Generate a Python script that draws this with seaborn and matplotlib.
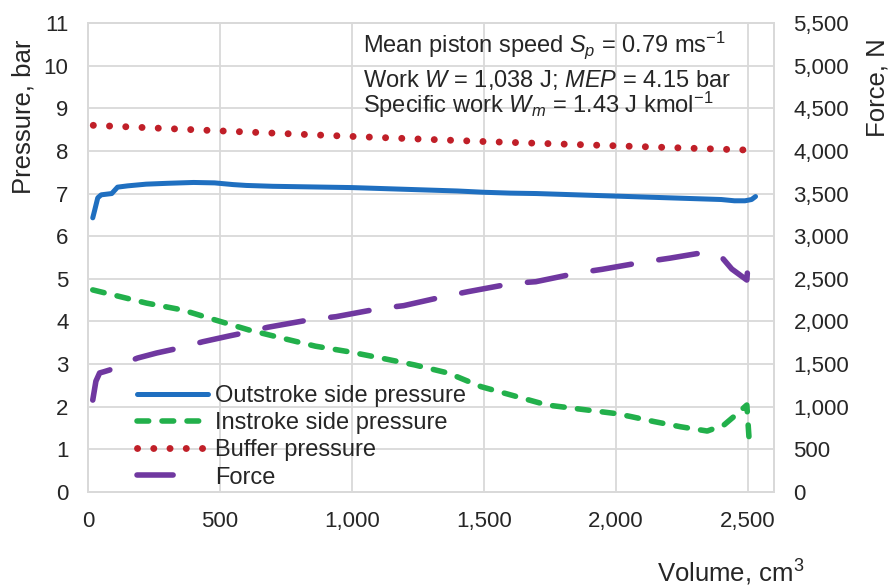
import matplotlib
matplotlib.use("Agg")
import matplotlib.pyplot as plt
import seaborn as sns
import pandas as pd
from matplotlib.ticker import FuncFormatter, MultipleLocator

# ---------------- data ----------------
out_vol = [18, 25, 37, 50, 90, 112, 150, 220, 300, 400, 480, 550, 600, 700, 800, 900, 1000,
           1100, 1200, 1300, 1400, 1500, 1600, 1700, 1800, 1900, 2000, 2100, 2200, 2300,
           2400, 2450, 2490, 2515, 2530]
out_p = [6.43, 6.6, 6.9, 6.97, 7.0, 7.15, 7.18, 7.22, 7.24, 7.26, 7.25, 7.21, 7.19, 7.17,
         7.16, 7.15, 7.14, 7.12, 7.1, 7.08, 7.06, 7.03, 7.01, 7.0, 6.98, 6.96, 6.94, 6.92,
         6.9, 6.88, 6.86, 6.83, 6.83, 6.86, 6.93]

in_vol = [18, 222, 358, 485, 610, 735, 862, 988, 1112, 1238, 1365, 1490, 1740, 2000, 2057,
          2147, 2246, 2347, 2410, 2448, 2497, 2505]
in_p = [4.74, 4.43, 4.27, 4.03, 3.8, 3.61, 3.42, 3.29, 3.14, 2.98, 2.79, 2.47, 2.04, 1.84,
        1.77, 1.65, 1.53, 1.43, 1.57, 1.77, 2.04, 1.3]

buf_vol = [20, 500, 1000, 1500, 2000, 2500]
buf_p = [8.6, 8.47, 8.34, 8.22, 8.12, 8.02]

force_vol = [18, 30, 44, 60, 82, 100, 188, 260, 347, 435, 535, 605, 680, 850, 940, 1110,
             1196, 1358, 1440, 1610, 1697, 1862, 1948, 2112, 2205, 2307, 2373, 2400, 2440,
             2497, 2505]
force_n = [1078, 1300, 1396, 1410, 1431, 1466, 1571, 1630, 1689, 1762, 1830, 1875, 1931,
           2025, 2056, 2154, 2185, 2298, 2349, 2447, 2466, 2572, 2611, 2700, 2742, 2795,
           2800, 2760, 2615, 2486, 2818]

labels = ["Outstroke side pressure", "Instroke side pressure", "Buffer pressure", "Force"]

# ---------------- style ----------------
sns.set_theme(style="white")
plt.rcParams["font.family"] = ["Liberation Sans", "DejaVu Sans"]
plt.rcParams["mathtext.fontset"] = "custom"
plt.rcParams["mathtext.rm"] = "Liberation Sans"
plt.rcParams["mathtext.it"] = "Liberation Sans:italic"
plt.rcParams["mathtext.bf"] = "Liberation Sans:bold"

TXT = "#262626"
GRID = "#D9D9D9"
FS_TICK = 16
FS_LEG = 17
FS_ANN = 17
FS_TITLE = 18.5

W, H = 889, 588
fig = plt.figure(figsize=(W / 100, H / 100), dpi=100)
ax = fig.add_axes([88 / W, 1 - 492 / H, (774 - 88) / W, (492 - 23) / H])
ax2 = ax.twinx()

df_out = pd.DataFrame({"v": out_vol, "p": out_p})
df_in = pd.DataFrame({"v": in_vol, "p": in_p})
df_buf = pd.DataFrame({"v": buf_vol, "p": buf_p})
df_f = pd.DataFrame({"v": force_vol, "f": force_n})

sns.lineplot(data=df_out, x="v", y="p", ax=ax, color="#1F6FC0", lw=3.6, sort=False,
             estimator=None, solid_capstyle="round", label=labels[0], legend=False)
sns.lineplot(data=df_in, x="v", y="p", ax=ax, color="#22B04B", lw=4.0, sort=False,
             estimator=None, linestyle=(0, (2.1, 2.4)), dash_capstyle="round",
             label=labels[1], legend=False)
sns.lineplot(data=df_buf, x="v", y="p", ax=ax, color="#C01F28", lw=5.0, sort=False,
             estimator=None, linestyle=(0, (0.01, 2.33)), dash_capstyle="round",
             label=labels[2], legend=False)
sns.lineplot(data=df_f, x="v", y="f", ax=ax2, color="#7038A0", lw=4.0, sort=False,
             estimator=None, linestyle=(0, (7.0, 5.0)), dash_capstyle="round",
             label=labels[3], legend=False)

ax.set_xlim(0, 2600)
ax.set_ylim(0, 11)
ax2.set_ylim(0, 5500)
ax.xaxis.set_major_locator(MultipleLocator(500))
ax.yaxis.set_major_locator(MultipleLocator(1))
ax2.yaxis.set_major_locator(MultipleLocator(500))
fmt = FuncFormatter(lambda v, p: f"{v:,.0f}")
ax.xaxis.set_major_formatter(fmt)
ax2.yaxis.set_major_formatter(fmt)

ax.grid(True, color=GRID, lw=1.3)
ax2.grid(False)
ax.set_axisbelow(True)
for a in (ax, ax2):
    for s in a.spines.values():
        s.set_color(GRID)
        s.set_linewidth(1.3)
    a.set_xlabel("")
    a.set_ylabel("")
ax.tick_params(axis="both", length=0, labelsize=FS_TICK, labelcolor=TXT, pad=14)
ax2.tick_params(axis="y", length=0, labelsize=FS_TICK, labelcolor=TXT, pad=14)

# axis titles
fig.text(24 / W, 1 - 40 / H, "Pressure, bar", rotation=90, ha="center", va="top",
         fontsize=FS_TITLE, color=TXT)
fig.text(877 / W, 1 - 38 / H, "Force, N", rotation=90, ha="center", va="top",
         fontsize=FS_TITLE, color=TXT)
fig.text(657 / W, 1 - 582 / H, "Volume, cm$^3$", ha="left", va="baseline",
         fontsize=FS_TITLE, color=TXT)

# annotation
fig.text(363 / W, 1 - 52 / H, "Mean piston speed $S_p$ = 0.79 ms$^{-1}$", ha="left",
         va="baseline", fontsize=FS_ANN, color=TXT)
fig.text(363 / W, 1 - 87 / H, "Work $W$ = 1,038 J; $MEP$ = 4.15 bar", ha="left",
         va="baseline", fontsize=FS_ANN, color=TXT)
fig.text(363 / W, 1 - 113 / H, "Specific work $W_m$ = 1.43 J kmol$^{-1}$", ha="left",
         va="baseline", fontsize=FS_ANN, color=TXT)

# legend
h1, l1 = ax.get_legend_handles_labels()
h2, l2 = ax2.get_legend_handles_labels()
leg = ax2.legend(h1 + h2, l1 + l2, loc="upper left",
                 bbox_to_anchor=((137 - 88) / 686, (492 - 385) / 469),
                 frameon=False, fontsize=FS_LEG, borderpad=0, borderaxespad=0,
                 handlelength=3.0, handletextpad=0.3, labelspacing=0.22)
for t in leg.get_texts():
    t.set_color(TXT)
leg.get_lines()[3].set_linestyle((0, (6.5, 12.0)))

fig.savefig("out.png", dpi=100)
